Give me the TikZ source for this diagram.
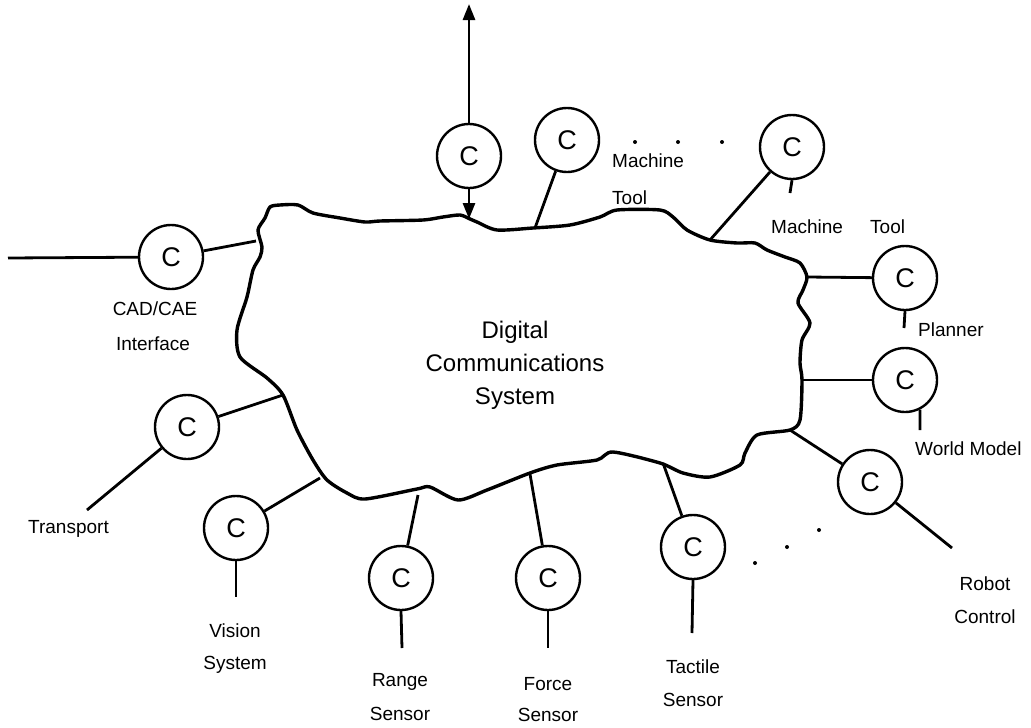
\documentclass[tikz,border=0pt]{standalone}
\usepackage{fontspec}
\setmainfont{Liberation Sans}
\usetikzlibrary{arrows.meta}
\begin{document}
\begin{tikzpicture}[x=1pt,y=-1pt,
  unit/.style={circle,draw,line width=2.4pt,minimum size=64pt,inner sep=0pt,
    font=\fontsize{27}{27}\selectfont},
  link/.style={line width=2.8pt},
  cloud/.style={line width=3.4pt,line join=round},
  lbl/.style={anchor=base,inner sep=0pt,font=\fontsize{19}{19}\selectfont},
  lbll/.style={lbl,anchor=base west},
  dot/.style={circle,fill,inner sep=0pt,minimum size=4pt},
  title/.style={anchor=base,inner sep=0pt,font=\fontsize{24}{24}\selectfont},
  tip/.style={-{Triangle[length=16pt,width=12pt]}}]
\useasboundingbox (0,0) rectangle (1031,728);

% the communications network
\draw[cloud] plot[smooth cycle,tension=0.45] coordinates {
  (270,207) (280,205) (298,205) (313,213) (340,218) (365,222) (380,221)
  (423,220) (443,217) (460,215) (470,219) (477,222) (497,230) (533,228)
  (570,225) (600,217) (617,210) (660,210) (673,217) (687,230) (710,240)
  (737,243) (755,243) (767,250) (785,257) (800,263) (807,277) (803,290)
  (798,303) (810,323) (802,340) (800,363) (802,380) (800,420) (790,430)
  (757,435) (745,453) (740,465) (710,477) (683,473) (660,463) (613,452)
  (597,460) (557,465) (530,473) (487,490) (458,500) (430,487) (417,489)
  (365,499) (347,493) (327,480) (313,460) (297,430) (283,395) (267,378)
  (240,357) (237,330) (247,297) (253,270) (260,257) (262,247) (258,230)
  (265,218)};

\node[title] (t1) at (515,338) {Digital};
\node[title] (t2) at (515,371) {Communications};
\node[title] (t3) at (515,404) {System};

% attachment points on the network
\coordinate (jCAD) at (256,241);
\coordinate (jTop) at (469,219);
\coordinate (jMT1) at (535,228);
\coordinate (jMT2) at (710,240);
\coordinate (jPlan) at (807,277);
\coordinate (jWM) at (802,380);
\coordinate (jRob) at (790,430);
\coordinate (jTact) at (663,463);
\coordinate (jForce) at (530,474);
\coordinate (jRange) at (418,495);
\coordinate (jVis) at (320,478);
\coordinate (jTr) at (283,395);

% controllers
\node[unit] (cTop) at (469,156) {C};
\node[unit] (cMT1) at (567,140) {C};
\node[unit] (cMT2) at (792,147) {C};
\node[unit] (cCAD) at (171,257) {C};
\node[unit] (cPlan) at (905,278) {C};
\node[unit] (cWM) at (905,380) {C};
\node[unit] (cRob) at (870,482) {C};
\node[unit] (cTr) at (187,427) {C};
\node[unit] (cVis) at (236,528) {C};
\node[unit] (cRange) at (401,578) {C};
\node[unit] (cForce) at (548,578) {C};
\node[unit] (cTact) at (693,547) {C};

% outer ends of the device lines
\coordinate (eUp) at (469,4);
\coordinate (eCAD) at (8,258);
\coordinate (eMT2) at (790,193);
\coordinate (ePlan) at (904,328);
\coordinate (eWM) at (920,430);
\coordinate (eRob) at (952,548);
\coordinate (eTr) at (87,510);
\coordinate (eVis) at (236,597);
\coordinate (eRange) at (402,648);
\coordinate (eForce) at (548,648);
\coordinate (eTact) at (692,633);

% links
\draw[link,tip] (cTop) -- (eUp);
\draw[link,tip] (cTop) -- (jTop);
\draw[link] (eCAD) -- (cCAD);
\draw[link] (cCAD) -- (jCAD);
\draw[link] (cMT1) -- (jMT1);
\draw[link] (cMT2) -- (jMT2);
\draw[link] (cMT2.south) -- (eMT2);
\draw[link] (jPlan) -- (cPlan);
\draw[link] (cPlan.south) -- (ePlan);
\draw[link] (jWM) -- (cWM);
\draw[link] (cWM.-63) -- (eWM);
\draw[link] (jRob) -- (cRob);
\draw[link] (cRob) -- (eRob);
\draw[link] (jTr) -- (cTr);
\draw[link] (cTr) -- (eTr);
\draw[link] (jVis) -- (cVis);
\draw[link] (cVis.south) -- (eVis);
\draw[link] (jRange) -- (cRange);
\draw[link] (cRange.south) -- (eRange);
\draw[link] (jForce) -- (cForce);
\draw[link] (cForce.south) -- (eForce);
\draw[link] (jTact) -- (cTact);
\draw[link] (cTact.south) -- (eTact);

% continuation dots
\node[dot] (d1) at (635,142) {};
\node[dot] (d2) at (678,142) {};
\node[dot] (d3) at (722,142) {};
\node[dot] (d4) at (819,530) {};
\node[dot] (d5) at (787,547) {};
\node[dot] (d6) at (755,563) {};

% labels
\node[lbl] (lCAD1) at (155,315) {CAD/CAE};
\node[lbl] (lCAD2) at (153,350) {Interface};
\node[lbll] (lMT1a) at (612,167) {Machine};
\node[lbll] (lMT1b) at (612,204) {Tool};
\node[lbll] (lMT2a) at (771,233) {Machine};
\node[lbll] (lMT2b) at (870,233) {Tool};
\node[lbll] (lPlan) at (918,336) {Planner};
\node[lbll] (lWM) at (915,455) {World Model};
\node[lbll] (lTr) at (28,533) {Transport};
\node[lbl] (lVis1) at (235,637) {Vision};
\node[lbl] (lVis2) at (235,669) {System};
\node[lbl] (lRange1) at (400,686) {Range};
\node[lbl] (lRange2) at (400,720) {Sensor};
\node[lbl] (lForce1) at (548,690) {Force};
\node[lbl] (lForce2) at (548,721) {Sensor};
\node[lbl] (lTact1) at (693,673) {Tactile};
\node[lbl] (lTact2) at (693,706) {Sensor};
\node[lbl] (lRob1) at (985,590) {Robot};
\node[lbl] (lRob2) at (985,623) {Control};
\end{tikzpicture}
\end{document}
